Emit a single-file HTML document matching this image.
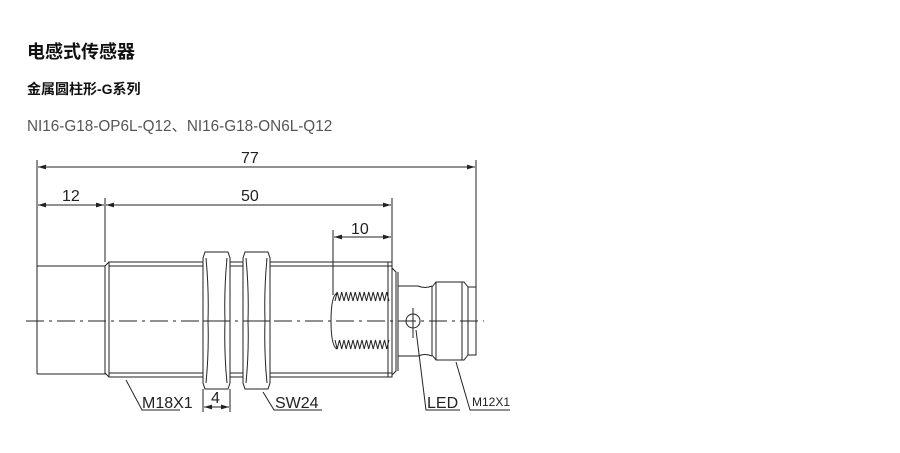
<!DOCTYPE html>
<html><head><meta charset="utf-8"><style>
html,body{margin:0;padding:0;background:#fff;width:900px;height:453px;overflow:hidden}
.t{position:absolute;left:27px;font-family:"Liberation Sans","Noto Sans CJK SC",sans-serif;white-space:nowrap}
</style></head><body>
<div class="t" style="top:38px;font-size:18px;font-weight:bold;color:#111">电感式传感器</div>
<div class="t" style="top:79px;font-size:14px;font-weight:bold;color:#111">金属圆柱形-G系列</div>
<div class="t" style="top:114px;font-size:15.3px;color:#555">NI16-G18-OP6L-Q12、NI16-G18-ON6L-Q12</div>
<svg width="900" height="453" style="position:absolute;left:0;top:0" xmlns="http://www.w3.org/2000/svg">
<defs><marker id="a" viewBox="0 0 10 6" refX="10" refY="3" markerWidth="8" markerHeight="5" orient="auto-start-reverse"><path d="M0,0L10,3L0,6z" fill="#222"/></marker></defs>
<g stroke="#222" stroke-width="1" fill="none">
<line x1="37" y1="160" x2="37" y2="374"/>
<line x1="105" y1="198" x2="105" y2="262"/>
<line x1="392" y1="198" x2="392" y2="268"/>
<line x1="333" y1="230" x2="333" y2="295"/>
<line x1="476" y1="160" x2="476" y2="287"/>
<line x1="38" y1="167" x2="475" y2="167" marker-start="url(#a)" marker-end="url(#a)"/>
<line x1="38" y1="205" x2="104" y2="205" marker-start="url(#a)" marker-end="url(#a)"/>
<line x1="106" y1="205" x2="391" y2="205" marker-start="url(#a)" marker-end="url(#a)"/>
<line x1="334" y1="237" x2="391" y2="237" marker-start="url(#a)" marker-end="url(#a)"/>
<path d="M37,266H105V374H37"/>
<path d="M105,266L109,262H392V377H109L105,373Z"/>
<line x1="109" y1="262" x2="109" y2="377"/>
<line x1="109" y1="266" x2="392" y2="266"/>
<line x1="109" y1="373" x2="392" y2="373"/>
<line x1="388" y1="262" x2="388" y2="377"/>
<g fill="#fff">
<path d="M205,252H228L230,258V383L228,389H205L203,383V258Z"/>
<path d="M245,252H268L270,258V383L268,389H245L243,383V258Z"/>
</g>
<path d="M206,258Q209,290 208,321Q209,352 206,383M227,258Q224,290 225,321Q224,352 227,383"/>
<path d="M246,258Q249,290 248,321Q249,352 246,383M267,258Q264,290 265,321Q264,352 267,383"/>
<line x1="203" y1="321" x2="230" y2="321"/>
<line x1="243" y1="321" x2="270" y2="321"/>
<path d="M337,293Q331,296 331,321Q331,346 337,349"/>
<polyline points="335,301 337.2,292 339.5,301 341.7,292 344,301 346.2,292 348.5,301 350.7,292 353,301 355.2,292 357.5,301 359.7,292 362,301 364.2,292 366.5,301 368.7,292 371,301 373.2,292 375.5,301 377.7,292 380,301 382.2,292 384.5,301 386.7,292 389,301"/>
<polyline points="335,340 337.2,349 339.5,340 341.7,349 344,340 346.2,349 348.5,340 350.7,349 353,340 355.2,349 357.5,340 359.7,349 362,340 364.2,349 366.5,340 368.7,349 371,340 373.2,349 375.5,340 377.7,349 380,340 382.2,349 384.5,340 386.7,349 389,340"/>
<path d="M392,268L396,272V371L392,375"/>
<line x1="398" y1="272" x2="398" y2="371"/>
<path d="M398,286H418Q425,289 432,286M398,356H418Q425,353 432,356"/>
<path d="M436,282H464L468,287V355L464,360H436L432,355V287Z"/>
<line x1="436" y1="282" x2="436" y2="360"/>
<line x1="462" y1="282" x2="462" y2="360"/>
<path d="M468,287H476V355H468"/>
<circle cx="413" cy="321" r="7"/>
<line x1="413" y1="308" x2="413" y2="338"/>
<line x1="26" y1="321" x2="484" y2="321" stroke-dasharray="18,5,3,5"/>
<path d="M126,380L142,410H180"/>
<path d="M263,392L274,410H322"/>
<path d="M416,330L426,410H460"/>
<path d="M456,362L470,410H510"/>
<line x1="203" y1="389" x2="203" y2="412"/>
<line x1="230" y1="389" x2="230" y2="412"/>
<line x1="204" y1="407" x2="229" y2="407" marker-start="url(#a)" marker-end="url(#a)"/>
</g>
<g font-family="Liberation Sans,sans-serif" font-size="16" fill="#222">
<text x="241" y="163">77</text>
<text x="62" y="201">12</text>
<text x="241" y="201">50</text>
<text x="351" y="234">10</text>
<text x="142" y="408">M18X1</text>
<text x="211" y="403">4</text>
<text x="275" y="408">SW24</text>
<text x="427" y="408">LED</text>
<text x="472" y="406" font-size="12">M12X1</text>
</g>
</svg>
</body></html>
